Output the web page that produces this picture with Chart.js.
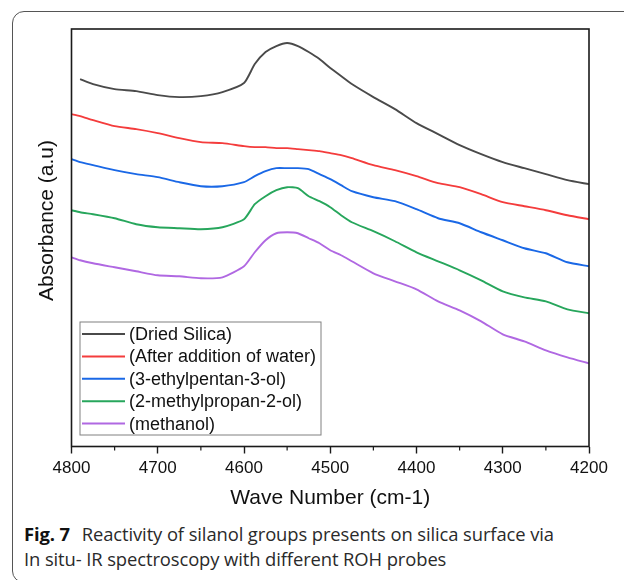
<!DOCTYPE html>
<html>
<head>
<meta charset="utf-8">
<script src="https://cdn.jsdelivr.net/npm/chart.js@4"></script>
<style>
  html, body { margin: 0; padding: 0; background: #fff; overflow: hidden; }
  body { width: 624px; height: 580px; position: relative; }
  .frame {
    position: absolute; left: 12px; top: 11px; width: 700px; height: 570px;
    border: 1.5px solid #555; border-radius: 12px;
  }
  #wrap { position: absolute; left: 0; top: 0; width: 624px; height: 520px; }
  .caption {
    position: absolute; left: 24px; top: 521px; width: 600px; white-space: nowrap;
    font-family: "Open Sans", sans-serif; font-size: 18.4px; line-height: 25px; color: #2a2a2a;
    letter-spacing: -0.1px;
  }
  .caption b { font-weight: 700; margin-right: 7px; color: #111; }
</style>
</head>
<body>
<div class="frame"></div>
<div id="wrap"><canvas id="irChart" width="624" height="520"></canvas></div>
<div class="caption"><b>Fig. 7</b> Reactivity of silanol groups presents on silica surface via<br>In situ- IR spectroscopy with different ROH probes</div>
<script>
// Wave numbers (cm-1)
const waveNumbers = [
    4800, 4790, 4775, 4750, 4725, 4700, 4675, 4650, 4625, 4600, 4587.5, 4575,
    4562.5, 4550, 4537.5, 4525, 4512.5, 4500, 4487.5, 4475, 4450, 4425, 4400,
    4375, 4350, 4325, 4300, 4275, 4250, 4225, 4200
];

const driedSilica = [
    null, 3.67, 3.62, 3.57, 3.55, 3.51, 3.49, 3.50, 3.54, 3.63, 3.82, 3.94,
    4.00, 4.03, 4.00, 3.94, 3.87, 3.78, 3.70, 3.62, 3.49, 3.37, 3.23,
    3.12, 3.01, 2.92, 2.84, 2.78, 2.72, 2.66, 2.62
];
const afterWater = [
    3.32, 3.30, 3.26, 3.20, 3.17, 3.13, 3.08, 3.04, 3.03, 3.00, 2.99, 2.99,
    2.98, 2.98, 2.97, 2.96, 2.95, 2.93, 2.91, 2.88, 2.81, 2.76, 2.70,
    2.63, 2.59, 2.52, 2.44, 2.40, 2.36, 2.31, 2.27
];
const ethylpentanol = [
    2.87, 2.84, 2.81, 2.76, 2.72, 2.69, 2.64, 2.60, 2.60, 2.64, 2.70, 2.75,
    2.78, 2.78, 2.78, 2.77, 2.72, 2.67, 2.61, 2.55, 2.49, 2.45, 2.37,
    2.28, 2.23, 2.14, 2.06, 1.98, 1.93, 1.84, 1.80
];
const methylpropanol = [
    2.36, 2.34, 2.32, 2.28, 2.22, 2.19, 2.18, 2.17, 2.19, 2.27, 2.42, 2.50,
    2.56, 2.59, 2.58, 2.50, 2.45, 2.39, 2.31, 2.24, 2.15, 2.05, 1.94,
    1.85, 1.76, 1.66, 1.55, 1.49, 1.45, 1.37, 1.33
];
const methanol = [
    1.89, 1.86, 1.83, 1.79, 1.75, 1.71, 1.70, 1.68, 1.69, 1.80, 1.94, 2.06,
    2.13, 2.14, 2.13, 2.08, 2.03, 1.96, 1.91, 1.85, 1.73, 1.65, 1.57,
    1.45, 1.36, 1.25, 1.12, 1.05, 0.96, 0.89, 0.83
];

const seriesLabels = [
    "(Dried Silica)", "(After addition of water)", "(3-ethylpentan-3-ol)",
    "(2-methylpropan-2-ol)", "(methanol)"
];
const seriesColors = ["#4a4a4a", "#f43c3c", "#1a68e6", "#27a65c", "#b068e2"];
const seriesValues = [driedSilica, afterWater, ethylpentanol, methylpropanol, methanol];

const majorTicks = [4800, 4700, 4600, 4500, 4400, 4300, 4200];
const minorTicks = [4750, 4650, 4550, 4450, 4350, 4250];

const AXIS_FONT = "'Liberation Sans', Arial, sans-serif";

// frame, minor ticks, y title, legend box
const extras = {
    id: 'extras',
    afterDraw(chart) {
        const { ctx, chartArea: a, scales: { x } } = chart;
        ctx.save();
        ctx.strokeStyle = '#1a1a1a';
        ctx.lineWidth = 1.6;
        ctx.strokeRect(a.left, a.top, a.right - a.left, a.bottom - a.top);

        ctx.lineWidth = 1.2;
        minorTicks.forEach(v => {
            const px = x.getPixelForValue(v);
            ctx.beginPath();
            ctx.moveTo(px, a.bottom);
            ctx.lineTo(px, a.bottom + 4);
            ctx.stroke();
        });

        // y title
        ctx.fillStyle = '#111';
        ctx.font = '21px ' + AXIS_FONT;
        ctx.textAlign = 'center';
        ctx.textBaseline = 'middle';
        ctx.translate(47, 220.5);
        ctx.rotate(-Math.PI / 2);
        ctx.fillText('Absorbance (a.u)', 0, 0);
        ctx.restore();

        // legend
        ctx.save();
        const lx = a.left + 8.5, ly = 322, lw = 241, lh = 113;
        ctx.fillStyle = '#fff';
        ctx.fillRect(lx, ly, lw, lh);
        ctx.strokeStyle = '#808080';
        ctx.lineWidth = 1;
        ctx.strokeRect(lx, ly, lw, lh);
        ctx.font = '18px ' + AXIS_FONT;
        ctx.textBaseline = 'middle';
        chart.data.datasets.forEach((ds, i) => {
            const yy = ly + 12 + i * 22.4;
            ctx.strokeStyle = ds.borderColor;
            ctx.lineWidth = 2;
            ctx.beginPath();
            ctx.moveTo(lx + 2, yy);
            ctx.lineTo(lx + 45, yy);
            ctx.stroke();
            ctx.fillStyle = '#111';
            ctx.fillText(ds.label, lx + 49, yy + 1);
        });
        ctx.restore();
    }
};

const ctx = document.getElementById('irChart').getContext('2d');
const irChart = new Chart(ctx, {
    type: 'line',
    data: {
        datasets: seriesValues.map((vals, i) => ({
            label: seriesLabels[i],
            data: waveNumbers.map((w, j) => ({ x: w, y: vals[j] })),
            borderColor: seriesColors[i],
            backgroundColor: seriesColors[i],
            borderWidth: 1.9,
            pointRadius: 0,
            tension: 0.2,
            fill: false
        }))
    },
    options: {
        responsive: false,
        animation: false,
        layout: { padding: { top: 29, right: 35, left: 0, bottom: 0 } },
        plugins: {
            legend: { display: false },
            tooltip: { enabled: false }
        },
        scales: {
            x: {
                type: 'linear',
                min: 4200,
                max: 4800,
                reverse: true,
                afterFit: s => { s.height = 73.5; },
                afterBuildTicks: s => { s.ticks = majorTicks.map(v => ({ value: v })); },
                ticks: {
                    color: '#111',
                    padding: 5,
                    font: { family: AXIS_FONT, size: 17 },
                    callback: v => String(v)
                },
                grid: {
                    drawOnChartArea: false,
                    drawTicks: true,
                    tickLength: 7,
                    tickWidth: 1.4,
                    tickColor: '#1a1a1a'
                },
                border: { display: false },
                title: {
                    display: true,
                    text: 'Wave Number (cm-1)',
                    color: '#111',
                    font: { family: AXIS_FONT, size: 21 },
                    padding: { top: 0, bottom: 9.5 }
                }
            },
            y: {
                min: 0,
                max: 4.17,
                afterFit: s => { s.width = 71.5; },
                ticks: { display: false },
                grid: { display: false },
                border: { display: false }
            }
        }
    },
    plugins: [extras]
});
</script>
</body>
</html>
